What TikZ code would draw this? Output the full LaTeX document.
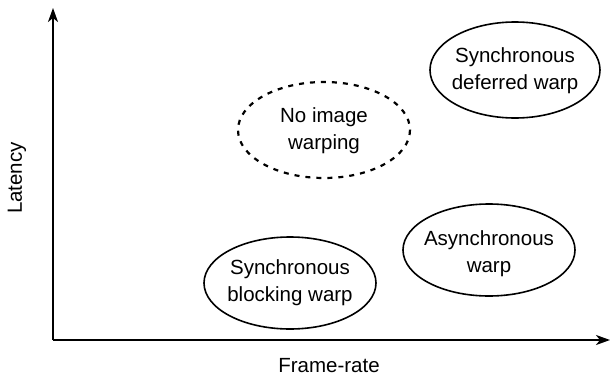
\documentclass[tikz,border=0pt]{standalone}
\usepackage{fontspec}
\setmainfont{Liberation Sans}
\usetikzlibrary{arrows.meta}

\tikzset{
  warp/.style={align=center, inner sep=0pt, font=\fontsize{20.5}{27}\selectfont},
  ring/.style={draw=black, line width=1.6pt},
  axis/.style={line width=2pt, -{Stealth[length=14pt,width=10pt,inset=4pt]}},
  axislabel/.style={font=\fontsize{20.5}{24}\selectfont}
}

\begin{document}
\begin{tikzpicture}[x=1pt,y=-1pt]
      \useasboundingbox (0,0) rectangle (611,383);

      % axes
      \coordinate (o) at (53,340);
      \coordinate (ytip) at (53,8);
      \coordinate (xtip) at (610,340);
      \draw[axis] (o) -- (ytip);
      \draw[axis] (o) -- (xtip);
      \node[axislabel, rotate=90] (latency) at (17,178) {Latency};
      \node[axislabel] (framerate) at (329,366) {Frame-rate};

      % approaches
      \node[warp] (blocking) at (290,283) {Synchronous\\blocking warp};
      \node[warp] (async) at (489,254) {Asynchronous\\warp};
      \node[warp] (nowarp) at (324,131) {No image\\warping};
      \node[warp] (deferred) at (515,71) {Synchronous\\deferred warp};

      \draw[ring] (290,283) ellipse [x radius=86, y radius=46];
      \draw[ring] (489,250) ellipse [x radius=86, y radius=46];
      \draw[ring, dashed, dash pattern=on 5pt off 6pt, line width=2.2pt]
            (324,130) ellipse [x radius=86, y radius=48];
      \draw[ring] (515,70) ellipse [x radius=85, y radius=48];
    \end{tikzpicture}
\end{document}
